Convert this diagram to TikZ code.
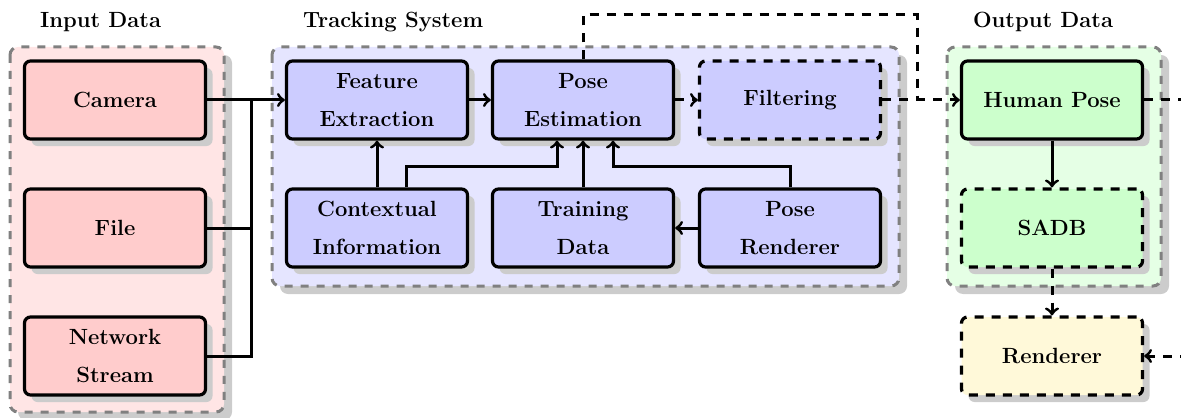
\documentclass[tikz,border=0pt]{standalone}
\usetikzlibrary{shadows}
\definecolor{inbg}{RGB}{255,229,229}
\definecolor{infill}{RGB}{255,204,204}
\definecolor{trbg}{RGB}{229,229,255}
\definecolor{trfill}{RGB}{204,204,255}
\definecolor{outbg}{RGB}{229,255,229}
\definecolor{outfill}{RGB}{204,255,204}
\definecolor{rendfill}{RGB}{255,249,217}
\tikzset{
  dsh/.style={dash pattern=on 4.5pt off 4pt},
  txt/.style={font=\fontsize{11}{19}\selectfont\bfseries},
  box/.style={txt, draw=black, line width=1.6pt, rounded corners=3pt,
    minimum width=90.5pt, minimum height=39pt, align=center, inner sep=2pt,
    drop shadow={shadow xshift=3.5pt, shadow yshift=-3.5pt, fill=black!20, opacity=1}},
  grp/.style={draw=black!50, line width=1.5pt, dash pattern=on 4pt off 4pt, rounded corners=4pt,
    drop shadow={shadow xshift=4pt, shadow yshift=-4pt, fill=black!20, opacity=1}},
  conn/.style={line width=1.5pt, draw=black},
  arr/.style={conn, ->},
}
\begin{document}
\begin{tikzpicture}[x=0.5pt,y=-0.5pt]
\path[use as bounding box, clip] (0,0) rectangle (1181,417);
% groups
\path[grp, fill=inbg] (10,47) rectangle (224,412);
\path[grp, fill=trbg] (272,47) rectangle (899,286);
\path[grp, fill=outbg] (947,47) rectangle (1161,286);
% labels
\node[txt, anchor=west] (lin) at (33,22) {Input Data};
\node[txt, anchor=west] (ltr) at (296,22) {Tracking System};
\node[txt, anchor=west] (lout) at (966,22) {Output Data};
% input nodes
\node[box, fill=infill] (cam) at (115,100) {Camera};
\node[box, fill=infill] (file) at (115,228) {File};
\node[box, fill=infill] (net) at (115,356) {Network\\Stream};
% tracking nodes
\node[box, fill=trfill, ] (feat) at (377,100) {Feature\\Extraction};
\node[box, fill=trfill] (pose) at (583,100) {Pose\\Estimation};
\node[box, fill=trfill, dsh] (filt) at (790,100) {Filtering};
\node[box, fill=trfill] (ctx) at (377,228) {Contextual\\Information};
\node[box, fill=trfill] (train) at (583,228) {Training\\Data};
\node[box, fill=trfill] (prend) at (790,228) {Pose\\Renderer};
% output nodes
\node[box, fill=outfill] (hp) at (1052,100) {Human Pose};
\node[box, fill=outfill, dsh] (sadb) at (1052,228) {SADB};
\node[box, fill=rendfill, dsh] (rend) at (1052,356) {Renderer};
% coordinates
\coordinate (j) at (251,100);
\coordinate (t) at (917,15);
\coordinate (k) at (917,100);
\coordinate (off) at (1200,100);
% connectors
\draw[arr] (cam.east) -- (feat.west);
\draw[conn] (file.east) -| (j);
\draw[conn] (net.east) -| (j);
\draw[arr] (feat.east) -- (pose.west);
\draw[arr, dsh] (pose.east) -- (filt.west);
\draw[arr, dsh] (filt.east) -- (hp.west);
\draw[conn, dsh] (pose.north) |- (t) -- (k);
\draw[arr] (ctx.north) -- (feat.south);
\draw[arr] ([xshift=14.5pt]ctx.north) -- ++(0,-21) -| ([xshift=-13pt]pose.south);
\draw[arr] (train.north) -- (pose.south);
\draw[arr] (prend.north) -- ++(0,-21) -| ([xshift=15pt]pose.south);
\draw[arr] (prend.west) -- (train.east);
\draw[arr] (hp.south) -- (sadb.north);
\draw[arr, dsh] (sadb.south) -- (rend.north);
\draw[arr, dsh] (hp.east) -| (off) |- (rend.east);
\end{tikzpicture}
\end{document}
